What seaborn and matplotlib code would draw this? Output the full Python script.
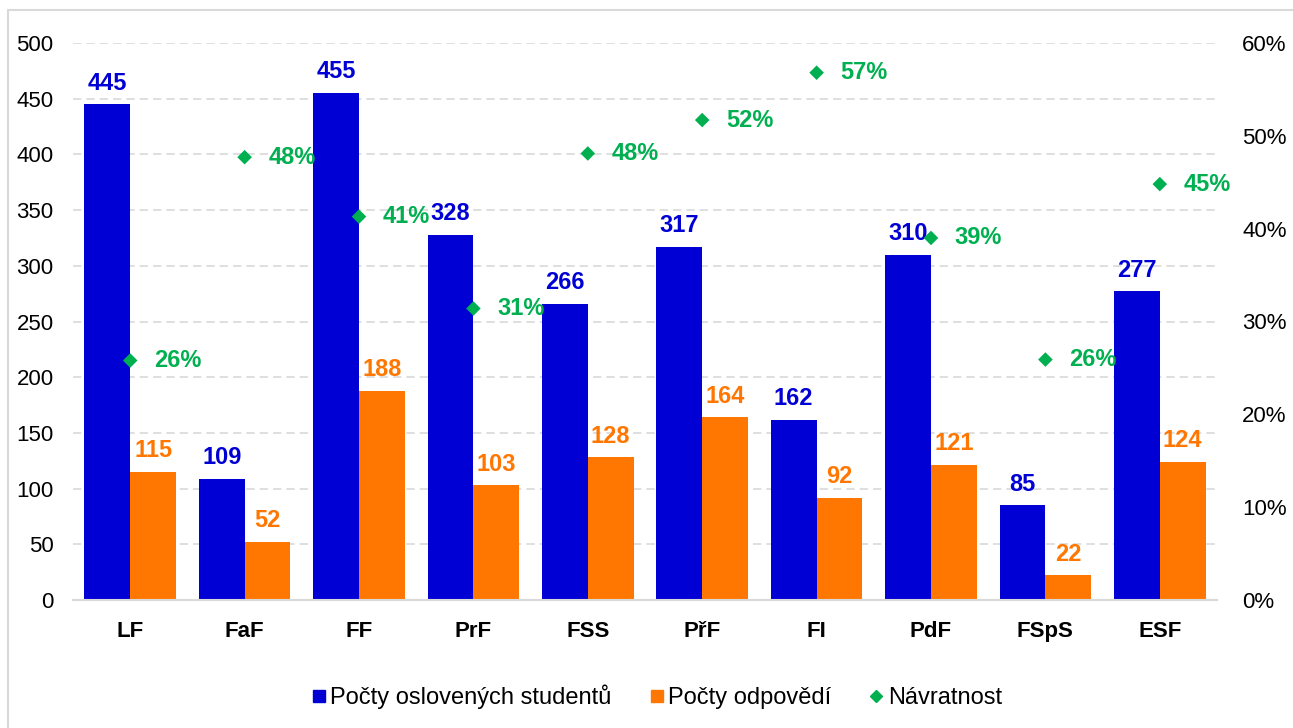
import numpy as np
import pandas as pd
import matplotlib.pyplot as plt
import seaborn as sns
from matplotlib.lines import Line2D
from matplotlib.patches import Rectangle

# data
fakulty = ['LF', 'FaF', 'FF', 'PrF', 'FSS', 'PřF', 'FI', 'PdF', 'FSpS', 'ESF']
osloveni = [445, 109, 455, 328, 266, 317, 162, 310, 85, 277]
odpovedi = [115, 52, 188, 103, 128, 164, 92, 121, 22, 124]
navratnost = [25.8, 47.7, 41.3, 31.4, 48.1, 51.7, 56.8, 39.0, 25.9, 44.8]

serie_names = ['Počty oslovených studentů', 'Počty odpovědí', 'Návratnost']
modra = '#0000D4'
oranzova = '#FF7700'
zelena = '#00B050'

sns.set_theme(style='white')
plt.rcParams['font.family'] = ['Liberation Sans', 'DejaVu Sans']
plt.rcParams['text.color'] = 'black'
plt.rcParams['xtick.color'] = 'black'
plt.rcParams['ytick.color'] = 'black'

df = pd.DataFrame({
    'fakulta': fakulty * 2,
    'pocet': osloveni + odpovedi,
    'serie': [serie_names[0]] * len(fakulty) + [serie_names[1]] * len(fakulty),
})

fig = plt.figure(figsize=(12.93, 7.28), dpi=100)
ax = fig.add_axes([73 / 1293, 1 - 600 / 728, (1217 - 73) / 1293, (600 - 43) / 728])

sns.barplot(data=df, x='fakulta', y='pocet', hue='serie', order=fakulty,
            palette=[modra, oranzova], saturation=1, width=0.8, ax=ax,
            legend=False, linewidth=0)

ax.set_ylim(0, 500)
ax.set_yticks(np.arange(0, 501, 50))
ax.set_xlabel('')
ax.set_ylabel('')
ax.yaxis.grid(True, color='#D9D9D9', linestyle=(0, (5, 3)), linewidth=1.2)
ax.set_axisbelow(True)
for s in ['left', 'right', 'top']:
    ax.spines[s].set_visible(False)
ax.spines['bottom'].set_color('#D9D9D9')
ax.spines['bottom'].set_linewidth(1.5)
ax.tick_params(axis='y', length=0, pad=14, labelsize=16, colors='black')
ax.tick_params(axis='x', length=0, pad=15, labelsize=16, colors='black')
for t in ax.get_xticklabels():
    t.set_fontweight('bold')

for cont, col in zip(ax.containers, [modra, oranzova]):
    ax.bar_label(cont, padding=7, color=col, fontsize=17, fontweight='bold')

ax2 = ax.twinx()
ax2.set_ylim(0, 60)
ax2.set_yticks(np.arange(0, 61, 10))
ax2.set_yticklabels([f'{v}%' for v in range(0, 61, 10)])
sns.scatterplot(x=np.arange(len(fakulty)), y=navratnost, marker='D', color=zelena,
                s=55, edgecolor='none', ax=ax2, legend=False, zorder=5)
for i, r in enumerate(navratnost):
    ax2.annotate(f'{r:.0f}%', (i, r), xytext=(17, 0), textcoords='offset points',
                 va='center', ha='left', color=zelena, fontsize=17, fontweight='bold')
for s in ax2.spines.values():
    s.set_visible(False)
ax2.tick_params(axis='y', length=0, pad=18, labelsize=16, colors='black')
ax2.set_xlim(-0.5, len(fakulty) - 0.5)

# frame around chart area
fig.patches.append(Rectangle((8 / 1293, -0.1), 1.2, (728 - 10) / 728 + 0.1,
                             transform=fig.transFigure, fill=False,
                             edgecolor='#D9D9D9', linewidth=1.5))

handles = [
    Line2D([], [], marker='s', linestyle='none', color=modra, markersize=8),
    Line2D([], [], marker='s', linestyle='none', color=oranzova, markersize=8),
    Line2D([], [], marker='D', linestyle='none', color=zelena, markersize=6.5),
]
fig.legend(handles, serie_names, loc='center', bbox_to_anchor=(0.508, 1 - 697 / 728),
           ncol=3, frameon=False, fontsize=17, handlelength=0.6, handletextpad=0.2,
           columnspacing=1.6)

fig.savefig('out.png', dpi=100)
